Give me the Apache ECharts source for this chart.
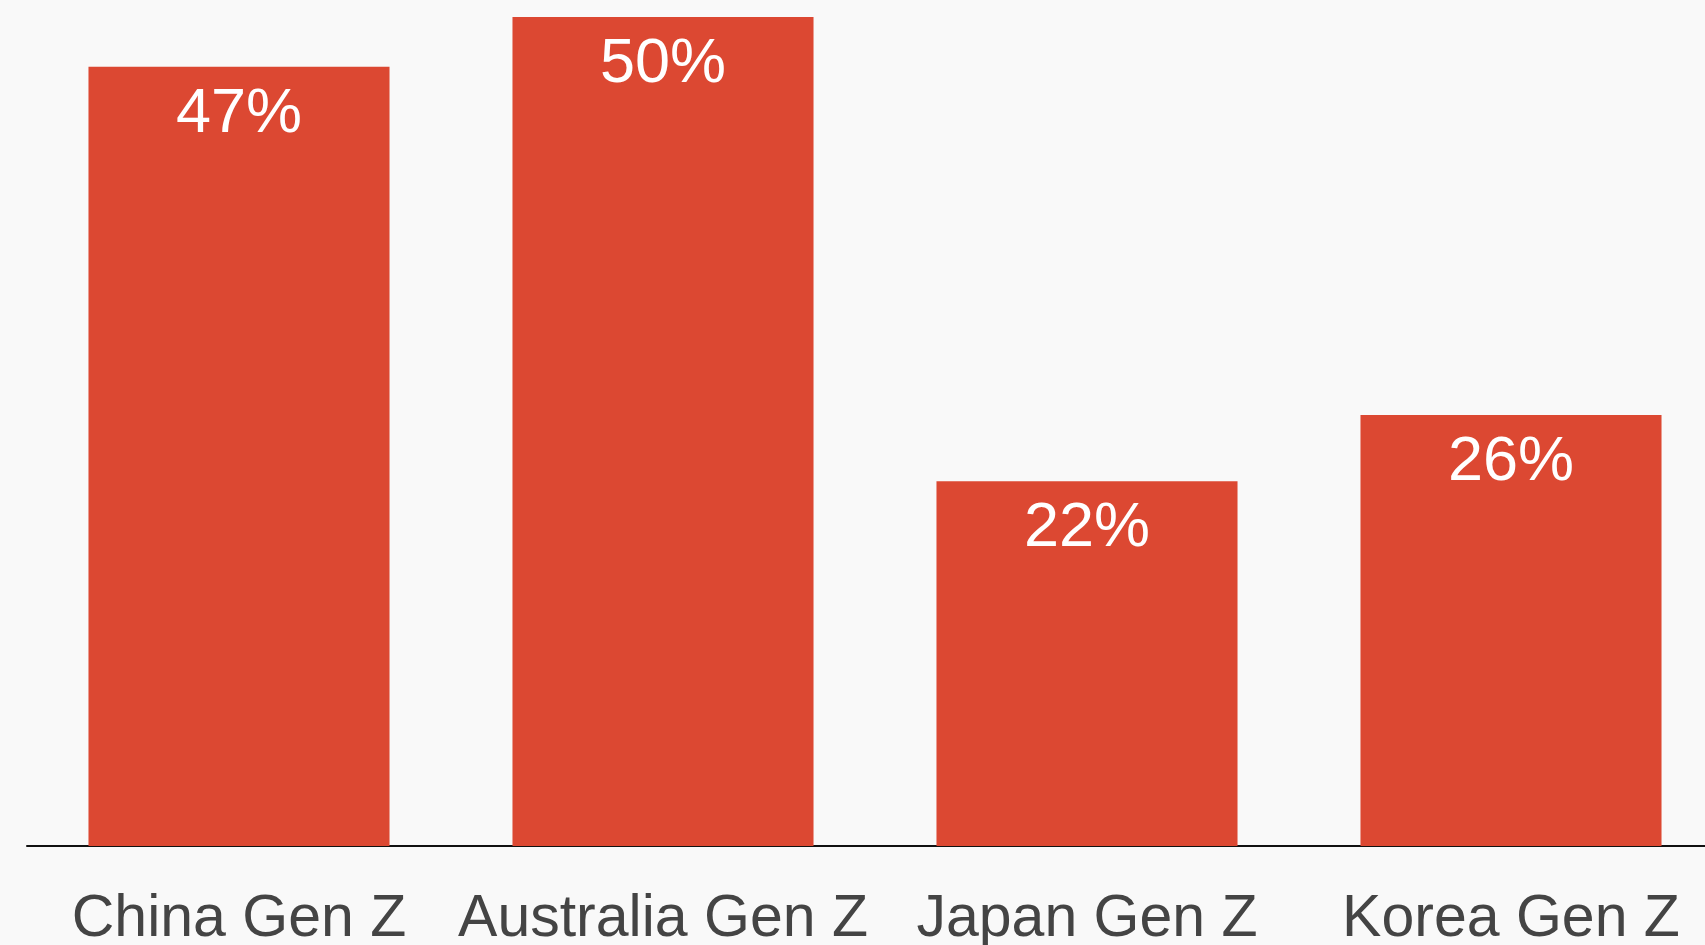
<!DOCTYPE html>
<html>
<head>
<meta charset="utf-8">
<title>Gen Z chart</title>
<script src="https://cdn.jsdelivr.net/npm/echarts@6/dist/echarts.min.js"></script>
<style>
  html, body { margin: 0; padding: 0; background: #f9f9f9; overflow: hidden; }
  #graphics { width: 1705px; height: 945px; }
</style>
</head>
<body>
<div id="graphics"></div>
<script>
// chart data
const categories = ["China Gen Z", "Australia Gen Z", "Japan Gen Z", "Korea Gen Z"];
const values = [47, 50, 22, 26];

// based on prepared DOM, initialize echarts instance
var myChart = echarts.init(document.getElementById('graphics'));

var option = {
    backgroundColor: '#f9f9f9',
    animation: false,
    grid: {
        // the plot runs a little past the right edge, as in the original
        left: 27,
        width: 1696,
        top: 17,
        bottom: 99,
        outerBoundsMode: 'none'
    },
    xAxis: {
        type: 'category',
        data: categories,
        axisLine: { show: true, lineStyle: { color: '#111', width: 2 } },
        axisTick: { show: false },
        axisLabel: {
            interval: 0,
            color: '#444',
            fontSize: 59,
            fontFamily: 'Liberation Sans',
            margin: 44
        }
    },
    yAxis: {
        type: 'value',
        min: 0,
        max: 50,
        show: false,
        splitLine: { show: false }
    },
    series: [{
        type: 'bar',
        data: values,
        barCategoryGap: '29%',
        itemStyle: { color: '#dc4832' },
        label: {
            show: true,
            position: 'insideTop',
            distance: 16,
            formatter: '{c}%',
            color: '#fff',
            fontSize: 63,
            fontFamily: 'Liberation Sans'
        }
    }]
};

myChart.setOption(option);
</script>
</body>
</html>
